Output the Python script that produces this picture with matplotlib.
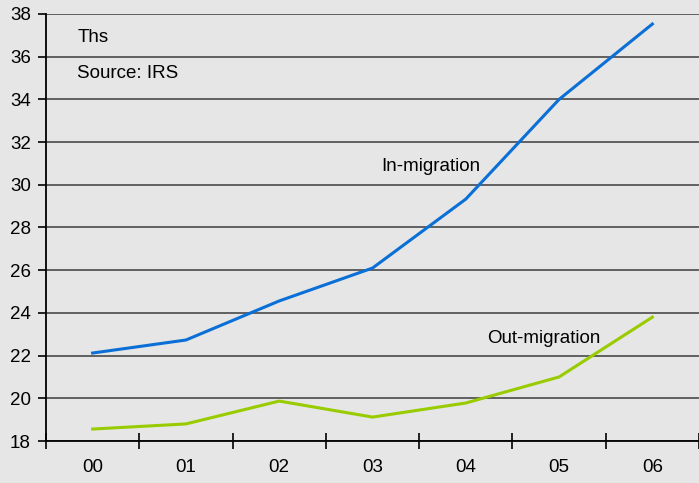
import matplotlib
matplotlib.use("Agg")
import matplotlib.pyplot as plt
import numpy as np

years = ["00", "01", "02", "03", "04", "05", "06"]
in_migration = [22.12, 22.73, 24.56, 26.10, 29.33, 34.00, 37.53]
out_migration = [18.56, 18.80, 19.87, 19.12, 19.78, 21.00, 23.80]

plt.rcParams["font.family"] = ["Liberation Sans", "DejaVu Sans"]

bg = "#e6e6e6"
fs = 13.5
fig = plt.figure(figsize=(6.99, 4.83), dpi=100, facecolor=bg)
ax = fig.add_axes([46 / 699, 42 / 483, 653 / 699, 427 / 483])
ax.set_facecolor(bg)

x = np.arange(len(years))
ax.plot(x, in_migration, color="#0a6fd6", lw=2.2, solid_joinstyle="miter")
ax.plot(x, out_migration, color="#99cc00", lw=2.2, solid_joinstyle="miter")

ax.set_xlim(-0.5, len(years) - 0.5)
ax.set_ylim(18, 38)
ax.set_yticks(np.arange(18, 39, 2))
ax.set_xticks(x)
ax.set_xticklabels(years)
ax.set_xticks(np.arange(-0.5, len(years), 1), minor=True)

ax.grid(axis="y", color="#555555", lw=1.3)
ax.set_axisbelow(True)

for side in ["top", "right"]:
    ax.spines[side].set_visible(False)
ax.spines["left"].set_color("black")
ax.spines["bottom"].set_color("black")
ax.spines["left"].set_linewidth(1.3)
ax.spines["bottom"].set_linewidth(1.3)

ax.tick_params(axis="y", direction="out", length=6, width=1.2, labelsize=fs, pad=5)
ax.tick_params(axis="x", which="major", length=0, labelsize=fs, pad=13)
ax.tick_params(axis="x", which="minor", direction="inout", length=12, width=1.2)

ax.text(0.048, 0.945, "Ths", transform=ax.transAxes, fontsize=fs, va="center")
ax.text(0.048, 0.86, "Source: IRS", transform=ax.transAxes, fontsize=fs, va="center")
ax.text(3.62, 30.88, "In-migration", fontsize=fs, ha="center", va="center")
ax.text(4.84, 22.82, "Out-migration", fontsize=fs, ha="center", va="center")

fig.savefig("out.png", dpi=100, facecolor=bg)
